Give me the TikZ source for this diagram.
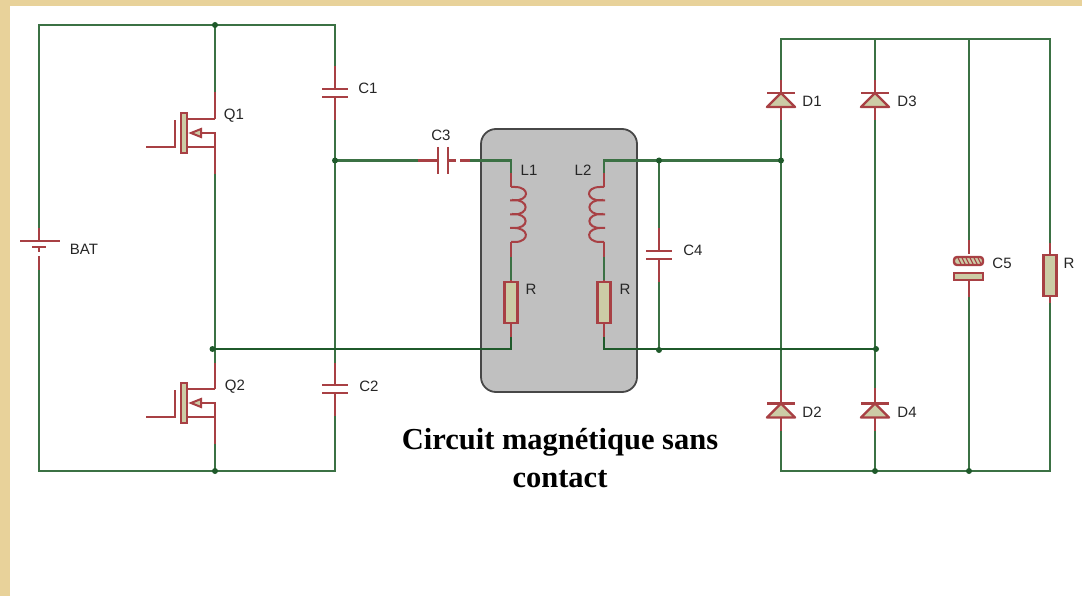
\documentclass[tikz,border=0pt]{standalone}
\usepackage{fontspec}
\setmainfont{Liberation Sans}
\newfontfamily\titlefont{Liberation Serif}
\definecolor{wirec}{HTML}{3B7144}
\definecolor{wired}{HTML}{1F5A2B}
\definecolor{redc}{HTML}{A84044}
\definecolor{tanc}{HTML}{CCCCA6}
\definecolor{bgtan}{HTML}{E8D29A}
\definecolor{boxfill}{HTML}{C0C0C0}
\tikzset{
  x=1pt,y=-1pt,
  wire/.style={draw=wirec,line width=2.6pt,line join=miter},
  wirethin/.style={draw=wired,line width=2pt,line join=miter},
  redw/.style={draw=redc,line width=2.6pt},
  redbody/.style={draw=redc,line width=2.4pt,fill=tanc},
  junction/.style={circle,fill=wired,draw=none,inner sep=0pt,minimum size=6pt},
  lbl/.style={font=\fontsize{15}{17}\selectfont,text=black!85,inner sep=0pt,anchor=center},
  pics/mosfetq/.style={code={
    \coordinate (-d) at (0,0);
    \coordinate (-gate) at (-69,28);
    \coordinate (-sb) at (0,55);
    \draw[redw] (-28,0) -- (0,0);
    \draw[redw] (-13,14) -- (0,14) -- (-sb);
    \draw[redw] (-28,28) -- (0,28);
    \draw[redw] (-gate) -- (-40,28) -- (-40,1);
    \draw[redbody] (-34,-6) rectangle (-28,34);
    \draw[redw,line width=2pt,fill=tanc] (-24,14) -- (-14,10) -- (-14,18) -- cycle;
  }},
  pics/capv/.style={code={
    \coordinate (-t) at (0,-4);
    \coordinate (-b) at (0,4);
    \draw[redw] (-13,-4) -- (13,-4);
    \draw[redw] (-13,4) -- (13,4);
  }},
  pics/diodev/.style={code={
    \coordinate (-k) at (0,0);
    \coordinate (-a) at (0,14);
    \draw[redbody,line join=round] (0,0) -- (-14,14) -- (14,14) -- cycle;
    \draw[redw] (-14,0) -- (14,0);
  }},
  pics/resv/.style={code={
    \coordinate (-t) at (0,0);
    \coordinate (-b) at (0,41);
    \draw[redbody] (-6.5,0) rectangle (6.5,41);
  }},
  pics/coilv/.style={code={
    \coordinate (-t) at (0,0);
    \coordinate (-b) at (0,55);
    \draw[draw=redc,line width=2pt]
      (0,0) -- (4,0) .. controls (19,0) and (19,14) .. (2,13.5) -- (-1,13.5)
      (1,13) .. controls (19,12) and (19,28) .. (2,27.5) -- (-1,27.5)
      (1,27) .. controls (19,26) and (19,42) .. (2,41) -- (-1,41)
      (1,41) .. controls (19,40) and (19,55) .. (4,55) -- (0,55);
  }},
}
\begin{document}
\begin{tikzpicture}
\useasboundingbox (0,0) rectangle (1082,596);
\fill[bgtan] (0,0) rectangle (1082,596);
\fill[white] (10,6) rectangle (1082,596);

% magnetic core
\node[draw=black!72,line width=1.8pt,fill=boxfill,rounded corners=15pt,minimum width=156pt,minimum height=263pt,inner sep=0pt] (core) at (559,260.5) {};

% left loop corners
\coordinate (tl) at (39,25);
\coordinate (tm) at (215,25);
\coordinate (tr) at (335,25);
\coordinate (bl) at (39,471);
\coordinate (bm) at (215,471);
\coordinate (br) at (335,471);
\coordinate (bat1) at (39,241);
\coordinate (bat1r) at (39,228);
\coordinate (bat2) at (39,247);
\coordinate (bat2e) at (39,252);
\coordinate (bat3) at (39,256);
\coordinate (bat3r) at (39,270);
\coordinate (batL) at (20,241);
\coordinate (batR) at (60,241);
\coordinate (batSL) at (32,247);
\coordinate (batSR) at (46,247);

% components
\pic (q1) at (215,119) {mosfetq};
\pic (q2) at (215,389) {mosfetq};
\pic (c1) at (335,93) {capv};
\pic (c2) at (335,389) {capv};
\pic (c4) at (659,255) {capv};
\coordinate (c1rt) at (335,66);
\coordinate (c1rb) at (335,120);
\coordinate (c2rt) at (335,363);
\coordinate (c2rb) at (335,416);
\coordinate (c4rt) at (659,228);
\coordinate (c4rb) at (659,282);
\coordinate (q1rt) at (215,92);
\coordinate (q2rt) at (215,363);

% C3
\coordinate (c3l) at (438,160.5);
\coordinate (c3r) at (448,160.5);
\coordinate (c3a) at (418,160.5);
\coordinate (c3b) at (456,160.5);
\coordinate (c3c) at (460,160.5);
\coordinate (c3d) at (470,160.5);
\coordinate (c3lt) at (438,147);
\coordinate (c3lb) at (438,174);
\coordinate (c3rt) at (448,147);
\coordinate (c3rb) at (448,174);
\coordinate (n1) at (335,160.5);
\coordinate (n2) at (511,160.5);

% windings
\pic (l1) at (511,187) {coilv};
\pic[xscale=-1] (l2) at (604,187) {coilv};
\pic (r1) at (511,282) {resv};
\pic (r2) at (604,282) {resv};
\coordinate (l1g) at (511,173);
\coordinate (l1r) at (511,257);
\coordinate (l2g) at (604,173);
\coordinate (l2r) at (604,257);
\coordinate (r1g) at (511,280);
\coordinate (r1b) at (511,337);
\coordinate (r2g) at (604,280);
\coordinate (r2b) at (604,337);
\coordinate (n3) at (511,349);
\coordinate (n4) at (604,349);
\coordinate (n5) at (604,160.5);
\coordinate (n6) at (781,160.5);
\coordinate (n7) at (877,349);
\coordinate (n8) at (212,349);
\coordinate (c4top) at (659,160.5);
\coordinate (c4bot) at (659,349);

% right side
\coordinate (rtl) at (781,39);
\coordinate (rt3) at (875,39);
\coordinate (rt5) at (969,39);
\coordinate (rtr) at (1050,39);
\coordinate (rbl) at (781,471);
\coordinate (rb3) at (875,471);
\coordinate (rb5) at (969,471);
\coordinate (rbr) at (1050,471);
\coordinate (d1u) at (781,80);
\coordinate (d1l) at (781,120);
\coordinate (d3u) at (875,80);
\coordinate (d3l) at (875,120);
\coordinate (d2u) at (781,390);
\coordinate (d2l) at (781,431);
\coordinate (d4u) at (875,388);
\coordinate (d4l) at (875,431);
\pic (d1) at (781,93) {diodev};
\pic (d3) at (875,93) {diodev};
\pic (d2) at (781,403.5) {diodev};
\pic (d4) at (875,403.5) {diodev};
\pic (rl) at (1050,255) {resv};
\coordinate (c5u) at (969,240);
\coordinate (c5t) at (969,254);
\coordinate (c5m) at (969,280);
\coordinate (c5l) at (969,297);
\coordinate (rlu) at (1050,243);
\coordinate (rld) at (1050,303);

% wires: left part
\draw[wire] (bat1r) -- (tl) -- (tr) -- (c1rt);
\draw[wire] (bat3r) -- (bl) -- (br) -- (c2rb);
\draw[wire] (tm) -- (q1rt);
\draw[wire] (q1-sb) -- (q2rt);
\draw[wire] (q2-sb) -- (bm);
\draw[wire] (c1rb) -- (c2rt);
\draw[wire] (n1) -- (c3a);
\draw[wirethin] (n8) -- (n3) -- (r1b);
\draw[wire] (c3d) -- (n2) -- (l1g);
\draw[redw] (l1g) -- (l1-t);
\draw[redw] (l1-b) -- (l1r);
\draw[wire] (l1r) -- (r1g);
\draw[redw] (r1g) -- (r1-t);
\draw[redw] (r1-b) -- (r1b);

% wires: right of the core
\draw[wire] (l2g) -- (n5) -- (n6);
\draw[redw] (l2g) -- (l2-t);
\draw[redw] (l2-b) -- (l2r);
\draw[wire] (l2r) -- (r2g);
\draw[redw] (r2g) -- (r2-t);
\draw[redw] (r2-b) -- (r2b);
\draw[wirethin] (r2b) -- (n4) -- (n7);
\draw[wire] (c4top) -- (c4rt);
\draw[wire] (c4rb) -- (c4bot);

\draw[wire] (d1u) -- (rtl) -- (rtr) -- (rlu);
\draw[wire] (rld) -- (rbr) -- (rbl) -- (d2l);
\draw[wire] (d1l) -- (d2u);
\draw[wire] (d3u) -- (rt3);
\draw[wire] (d3l) -- (d4u);
\draw[wire] (d4l) -- (rb3);
\draw[wire] (rt5) -- (c5u);
\draw[wire] (c5l) -- (rb5);

% red stubs
\draw[redw] (bat1r) -- (bat1);
\draw[redw] (bat2) -- (bat2e);
\draw[redw] (bat3) -- (bat3r);
\draw[redw] (batL) -- (batR);
\draw[redw] (batSL) -- (batSR);
\draw[redw] (q1rt) -- (q1-d);
\draw[redw] (q2rt) -- (q2-d);
\draw[redw] (c1rt) -- (c1-t);
\draw[redw] (c1-b) -- (c1rb);
\draw[redw] (c2rt) -- (c2-t);
\draw[redw] (c2-b) -- (c2rb);
\draw[redw] (c4rt) -- (c4-t);
\draw[redw] (c4-b) -- (c4rb);
\draw[redw] (c3a) -- (c3l);
\draw[redw] (c3r) -- (c3b);
\draw[redw] (c3c) -- (c3d);
\draw[redw] (c3lt) -- (c3lb);
\draw[redw] (c3rt) -- (c3rb);
\draw[redw] (d1u) -- (d1-k);
\draw[redw] (d1-a) -- (d1l);
\draw[redw] (d3u) -- (d3-k);
\draw[redw] (d3-a) -- (d3l);
\draw[redw] (d2u) -- (d2-k);
\draw[redw] (d2-a) -- (d2l);
\draw[redw] (d4u) -- (d4-k);
\draw[redw] (d4-a) -- (d4l);
\draw[redw] (rlu) -- (rl-t);
\draw[redw] (rl-b) -- (rld);
\draw[redw] (c5u) -- (c5t);
\draw[redw] (c5m) -- (c5l);

% C5
\draw[redbody,rounded corners=3pt] (954,257) rectangle (983,265);
\foreach \hx in {958,962,...,980}{\draw[draw=redc,line width=1.1pt] (\hx,258) -- (\hx+3,264);}
\draw[redbody] (954,273) rectangle (983,280);

% junctions
\node[junction] (j1) at (215,25) {};
\node[junction] (j2) at (215,471) {};
\node[junction] (j3) at (212.5,349) {};
\node[junction] (j4) at (335,160.5) {};
\node[junction] (j5) at (659,160.5) {};
\node[junction] (j6) at (659,350) {};
\node[junction] (j7) at (781,160.5) {};
\node[junction] (j8) at (876,349) {};
\node[junction] (j9) at (875,471) {};
\node[junction] (j10) at (969,471) {};
\node[junction,minimum size=3pt] (j11) at (781,349) {};

% labels
\node[lbl] (tBAT) at (84,249.5) {BAT};
\node[lbl] (tQ1) at (234,115.5) {Q1};
\node[lbl] (tQ2) at (235,386.5) {Q2};
\node[lbl] (tC1) at (368,88.5) {C1};
\node[lbl] (tC2) at (369,386.5) {C2};
\node[lbl] (tC3) at (441,135.5) {C3};
\node[lbl] (tL1) at (529,170.5) {L1};
\node[lbl] (tL2) at (583,170.5) {L2};
\node[lbl] (tR1) at (531,289.5) {R};
\node[lbl] (tR2) at (625,289.5) {R};
\node[lbl] (tC4) at (693,250.5) {C4};
\node[lbl] (tD1) at (812,101.5) {D1};
\node[lbl] (tD3) at (907,101.5) {D3};
\node[lbl] (tD2) at (812,412.5) {D2};
\node[lbl] (tD4) at (907,412.5) {D4};
\node[lbl] (tC5) at (1002,263.5) {C5};
\node[lbl] (tR3) at (1069,263.5) {R};

\node[font=\titlefont\bfseries\fontsize{30.5}{38}\selectfont,align=center,text=black,inner sep=0pt] (title) at (560,458) {Circuit magnétique sans\\contact};
\end{tikzpicture}
\end{document}
